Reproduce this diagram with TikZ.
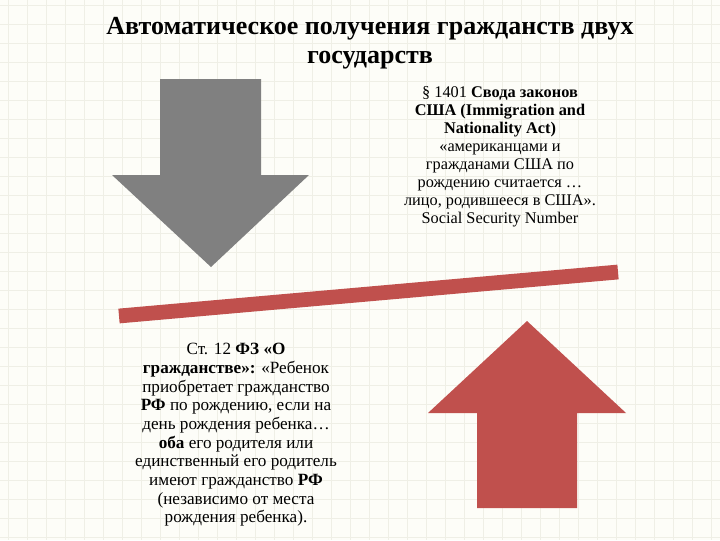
\documentclass[tikz,border=0pt]{standalone}
\usepackage{fontspec}
\setmainfont{Liberation Serif}
\usepackage{xcolor}
\usepackage{tikz}

\definecolor{paper}{HTML}{FDFDF8}
\definecolor{gridline}{HTML}{EFEFE6}
\definecolor{arrowred}{HTML}{C0504D}
\definecolor{arrowgray}{HTML}{808080}

\tikzset{
	title/.style={align=center, inner sep=0, font=\fontsize{18.5}{21}\selectfont\bfseries},
	law/.style={align=center, inner sep=0}
}

\begin{document}
\begin{tikzpicture}[x=0.025cm, y=-0.025cm]

\useasboundingbox (0,0) rectangle (720,540);
\fill[paper] (0,0) rectangle (720,540);

\foreach \a in {0,...,37}{
	\draw[color=gridline, line width=0.4] (\a*19+8,0)--(\a*19+8,540);
}
\foreach \a in {0,...,28}{
	\draw[color=gridline, line width=0.4] (0,\a*19+5)--(720,\a*19+5);
}

\fill[arrowgray] (160,79)--(261,79)--(261,175)--(309,175)--(211,267)--(112,175)--(160,175)--cycle;

\fill[arrowred] (477,508)--(577,508)--(577,413)--(626,413)--(527,321)--(428,413)--(477,413)--cycle;

\draw[color=arrowred, line width=10.5] (119,316)--(618,272);

\node[title, anchor=north] (heading) at (370,17) {Автоматическое получения гражданств двух\\ государств};

\node[law, anchor=north, font=\fontsize{11.6}{12.8}\selectfont] (uslaw) at (500,86) {§ 1401 \textbf{Свода законов}\\
\textbf{США (Immigration and}\\
\textbf{Nationality Act)}\\
«американцами и\\
гражданами США по\\
рождению считается …\\
лицо, родившееся в США».\\
Social Security Number};

\node[law, anchor=north, font=\fontsize{12.2}{13.3}\selectfont] (rflaw) at (236,343) {Ст. 12 \textbf{ФЗ «О}\\
\textbf{гражданстве»:} «Ребенок\\
приобретает гражданство\\
\textbf{РФ} по рождению, если на\\
день рождения ребенка…\\
\textbf{оба} его родителя или\\
единственный его родитель\\
имеют гражданство \textbf{РФ}\\
(независимо от места\\
рождения ребенка).};

\end{tikzpicture}
\end{document}
